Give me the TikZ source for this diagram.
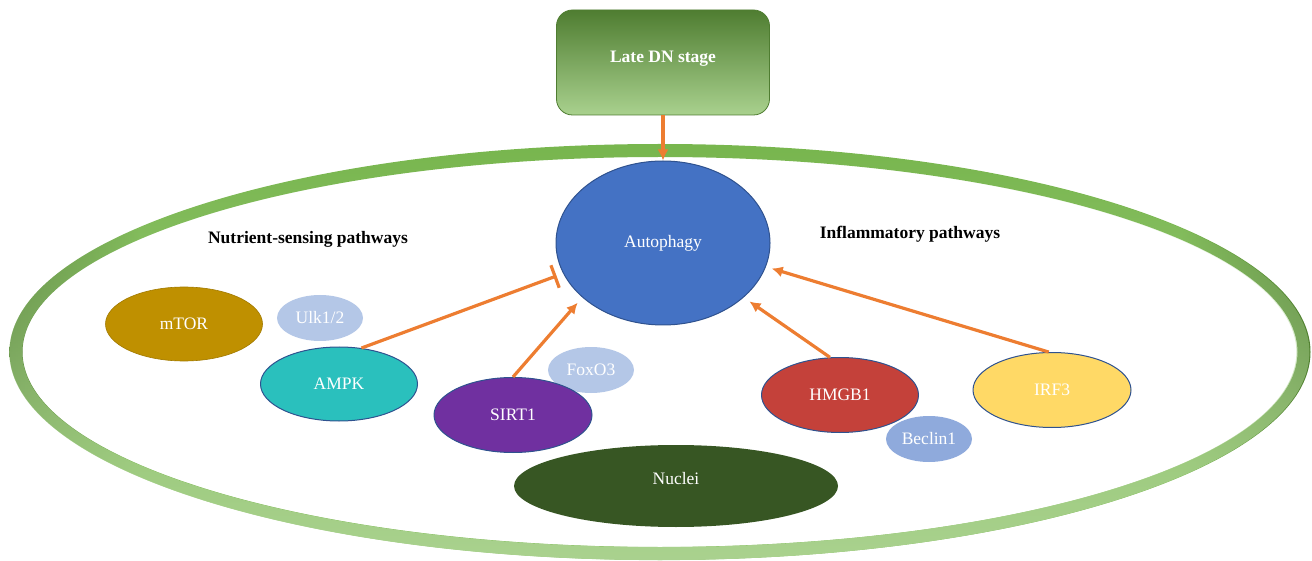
\documentclass[tikz,border=0pt]{standalone}
\usepackage{fontspec}
\setmainfont{Liberation Serif}
\usepackage{xcolor}
\usepackage{tikz}
\usetikzlibrary{shapes.geometric,arrows.meta,fadings}

\definecolor{ringdark}{HTML}{507F30}
\definecolor{ringmid}{HTML}{78B64E}
\definecolor{ringlight}{HTML}{AAD28F}
\definecolor{orangearr}{HTML}{ED7D31}
\definecolor{edgeblue}{HTML}{2F528F}
\definecolor{autoblue}{HTML}{4472C4}
\definecolor{mtorgold}{HTML}{BF9000}
\definecolor{paleblue}{HTML}{B4C7E7}
\definecolor{ampkteal}{HTML}{2AC0BD}
\definecolor{sirtpurple}{HTML}{7030A0}
\definecolor{nucleigreen}{HTML}{375623}
\definecolor{hmgbred}{HTML}{C4413A}
\definecolor{beclinblue}{HTML}{8FAADC}
\definecolor{irfyellow}{HTML}{FFD966}
\definecolor{boxtop}{HTML}{4F7D31}
\definecolor{boxmid}{HTML}{70AD47}
\definecolor{boxbot}{HTML}{A9D18E}

\pgfdeclarehorizontalshading{ringshade}{100bp}{color(0bp)=(ringdark); color(25bp)=(ringdark); color(30bp)=(ringmid); color(70bp)=(ringmid); color(75bp)=(ringdark); color(100bp)=(ringdark)}
\tikzfading[name=ringfade, top color=transparent!100, middle color=transparent!100, bottom color=transparent!0]

\begin{document}
\begin{tikzpicture}[x=1pt,y=-1pt,
	every node/.style={font=\fontsize{17.5}{21}\selectfont},
	cell/.style={ellipse,inner sep=0pt,minimum width=157pt,minimum height=74pt,text=white},
	sidecell/.style={ellipse,inner sep=0pt,minimum width=86pt,minimum height=46pt,text=white},
	rim/.style={draw=edgeblue,line width=1pt},
	act/.style={draw=orangearr,line width=3.2pt,-{Latex[length=11pt,width=11pt]}},
	inhib/.style={draw=orangearr,line width=3.2pt,-{Bar[width=24pt]}}]
	\useasboundingbox (0,0) rectangle (1312,561);
	% cell membrane
	\shade[shading=ringshade,even odd rule] (660,352) ellipse [x radius=650.5, y radius=208] (660,352) ellipse [x radius=637.5, y radius=195];
	\fill[ringlight,even odd rule,path fading=ringfade] (660,352) ellipse [x radius=650.5, y radius=208] (660,352) ellipse [x radius=637.5, y radius=195];
	% stage box
	\node[rounded corners=16pt,minimum width=213pt,minimum height=105pt,text height=13pt,text depth=12pt,
		draw=boxtop,line width=0.8pt,top color=boxtop,middle color=boxmid,bottom color=boxbot,
		text=white,font=\fontsize{17.5}{21}\selectfont\bfseries] (latedn) at (663,62.5) {Late DN stage};
	\node[ellipse,inner sep=0pt,minimum width=214pt,minimum height=164pt,fill=autoblue,rim,text=white] (auto) at (663,243) {Autophagy};
	\node[font=\fontsize{17.5}{21}\selectfont\bfseries] (nutr) at (308,239) {Nutrient-sensing pathways};
	\node[font=\fontsize{17.5}{21}\selectfont\bfseries] (infl) at (910,234) {Inflammatory pathways};
	% nutrient-sensing side
	\node[cell,fill=mtorgold,draw=mtorgold!85!black,line width=0.6pt] (mtor) at (184,324) {mTOR};
	\node[sidecell,fill=paleblue] (ulk) at (320,318) {Ulk1/2};
	\node[cell,fill=ampkteal,rim] (ampk) at (339,384) {AMPK};
	\node[sidecell,fill=paleblue] (foxo) at (591,370) {FoxO3};
	\node[cell,fill=sirtpurple,rim,minimum width=158pt,minimum height=75pt] (sirt) at (513,415) {SIRT1};
	\node[ellipse,inner sep=0pt,minimum width=324pt,minimum height=82pt,text height=12pt,text depth=16pt,
		fill=nucleigreen,text=white] (nuclei) at (676,486) {Nuclei};
	% inflammatory side
	\node[cell,fill=hmgbred,rim,minimum height=75pt] (hmgb) at (840,395) {HMGB1};
	\node[sidecell,fill=beclinblue] (beclin) at (929,439) {Beclin1};
	\node[cell,fill=irfyellow,rim,minimum width=158pt,minimum height=75pt] (irf) at (1052,390) {IRF3};
	% connectors
	\draw[act] (latedn.south) -- (auto.north);
	\draw[inhib,shorten >=7pt] (ampk.58) -- (auto.197);
	\draw[act,shorten >=7pt] (sirt.north) -- (auto.214);
	\draw[act,shorten >=7pt] (hmgb.105) -- (auto.-34);
	\draw[act,shorten >=6pt] (irf.95) -- (auto.-13);
\end{tikzpicture}
\end{document}
